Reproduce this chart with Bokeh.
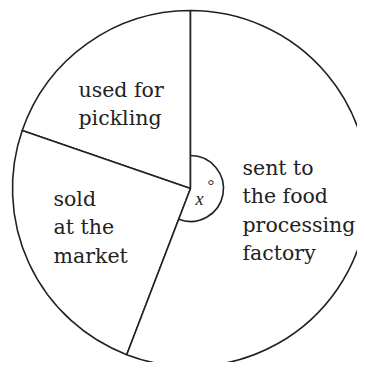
import math
from bokeh.plotting import figure
from bokeh.models import Range1d
from bokeh.core.properties import value
from bokeh.embed import file_html
from bokeh.resources import INLINE

# ---- data ----
categories = ["used for pickling", "sold at the market", "sent to the food processing factory"]
label_lines = [["used for", "pickling"], ["sold", "at the", "market"], ["sent to", "the food", "processing", "factory"]]
angles_deg = [71, 88, 201]  # slice angles in degrees (x = 201)
angle_label = "x"

# ---- layout (screen-like coordinates, y measured up from the bottom of window) ----
W, H = 357, 362
WIN_H = 370
cx, cy = 190, WIN_H - 188
R = 178
start0 = 90.0
FONT = value("DejaVu Serif")

p = figure(width=W, height=H, output_backend="svg", toolbar_location=None,
           x_range=Range1d(0, W), y_range=Range1d(WIN_H - H, WIN_H),
           min_border=0, outline_line_color=None)
p.axis.visible = False
p.grid.visible = False
p.background_fill_color = "white"
p.border_fill_color = "white"

starts, ends = [], []
a = start0
for v in angles_deg:
    starts.append(math.radians(a))
    a += v
    ends.append(math.radians(a))

p.wedge(x=[cx] * 3, y=[cy] * 3, radius=R, start_angle=starts, end_angle=ends,
        fill_color="white", line_color="#222222", line_width=1.6)

# small angle arc for x
p.arc(x=cx, y=cy, radius=33, start_angle=starts[2], end_angle=ends[2],
      line_color="#222222", line_width=1.6)

# labels
label_pos = [(78, 89), (53, 198), (242, 167)]
spacing = 28.5
for lines, (lx, ly) in zip(label_lines, label_pos):
    xs = [lx] * len(lines)
    ys = [WIN_H - (ly + i * spacing) for i in range(len(lines))]
    p.text(x=xs, y=ys, text=lines, text_font=FONT,
           text_font_size="20.5px", text_color="#222222",
           text_align="left", text_baseline="alphabetic")

p.text(x=[195], y=[WIN_H - 198], text=[angle_label], text_font=value("Liberation Serif"),
       text_font_style="italic", text_font_size="18px", text_color="#222222",
       text_baseline="alphabetic")
p.text(x=[207], y=[WIN_H - 185], text=["\u00b0"], text_font=value("Liberation Serif"),
       text_font_size="17px", text_color="#222222", text_baseline="middle")

open("out.html", "w").write(file_html(p, INLINE))
